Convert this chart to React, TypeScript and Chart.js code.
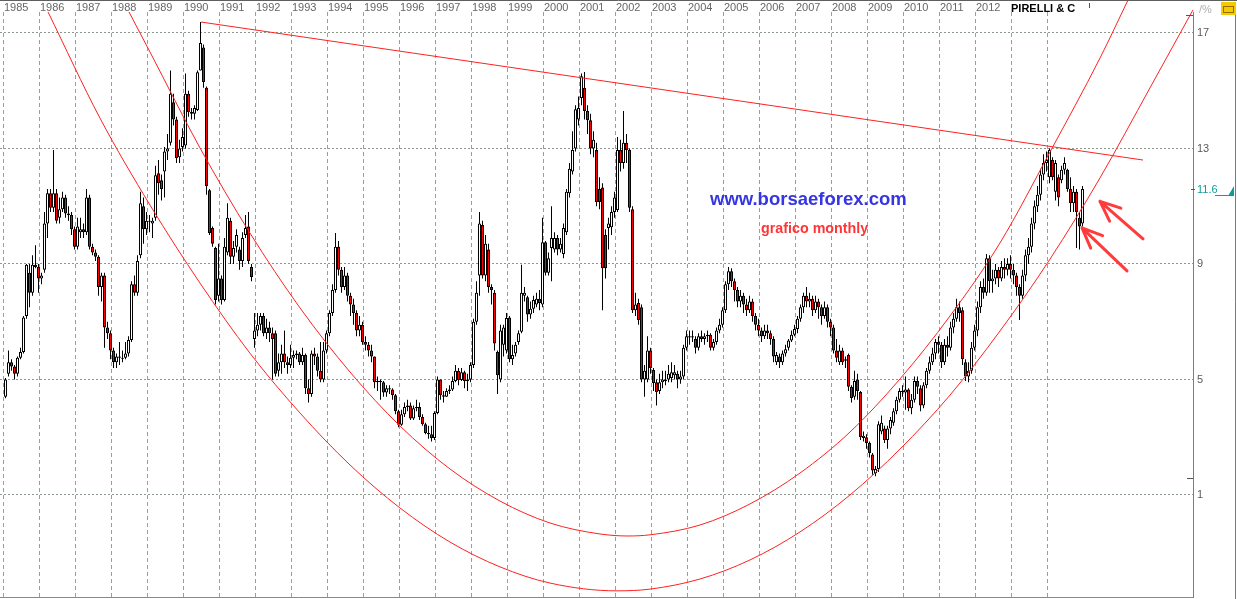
import React, { useEffect, useRef } from 'react';
import { Chart, registerables } from 'chart.js';

Chart.register(...registerables);

// ---------- axes ----------
const xTickYears = [1985, 1986, 1987, 1988, 1989, 1990, 1991, 1992, 1993, 1994, 1995, 1996, 1997, 1998, 1999, 2000, 2001, 2002, 2003, 2004, 2005, 2006, 2007, 2008, 2009, 2010, 2011, 2012, 2013, 2014];
const xTickLabels = ['1985', '1986', '1987', '1988', '1989', '1990', '1991', '1992', '1993', '1994', '1995', '1996', '1997', '1998', '1999', '2000', '2001', '2002', '2003', '2004', '2005', '2006', '2007', '2008', '2009', '2010', '2011', '2012', '', ''];
const yTickValues = [1, 5, 9, 13, 17];
const xMin = 1984.8889;
const xMax = 2018.0278;
const yMin = -2.533;
const yMax = 17.727;
const firstYear = 1985; // first monthly bar = Jan 1985

// ---------- monthly OHLC (one row per year, Jan..Dec) ----------
const opens = [
  4.4, 5.2, 5.6, 5.45, 5.2, 5.75, 5.95, 7.2, 8.7, 8.0, 8.97, 8.9,
  8.5, 8.8, 10.4, 11.45, 10.95, 11.45, 10.6, 10.9, 11.3, 10.75, 10.7, 10.2,
  9.6, 10.1, 10.2, 10.1, 11.3, 9.6, 9.4, 9.25, 8.2, 8.6, 6.8, 6.6,
  6.0, 5.6, 5.8, 5.75, 5.75, 5.9, 6.37, 8.3, 8.0, 9.3, 11.0, 10.2,
  10.5, 10.4, 10.6, 12.14, 11.9, 12.2, 12.9, 13.2, 14.6, 14.0, 12.7, 13.05,
  13.1, 14.9, 14.26, 14.2, 14.33, 15.7, 16.5, 15.1, 11.55, 10.25, 9.55, 7.9,
  8.5, 7.75, 9.4, 10.5, 9.25, 9.6, 9.5, 9.1, 10.0, 10.3, 8.9, 6.4,
  6.7, 6.9, 7.2, 6.6, 6.8, 6.6, 6.6, 5.3, 5.6, 5.9, 5.6, 5.5,
  5.75, 5.85, 5.9, 5.6, 5.85, 4.7, 4.5, 5.9, 5.8, 5.3, 5.0, 6.0,
  6.6, 7.3, 8.1, 9.6, 8.8, 8.2, 8.6, 7.9, 7.6, 7.3, 6.7, 6.9,
  6.3, 6.2, 6.0, 5.8, 4.9, 4.95, 4.9, 4.55, 4.7, 4.65, 4.45, 3.9,
  3.43, 3.8, 4.05, 4.1, 3.65, 4.0, 4.05, 3.7, 3.45, 3.15, 3.1, 2.97,
  3.84, 5.0, 4.45, 4.4, 4.6, 4.65, 4.95, 5.3, 4.98, 5.25, 4.95, 5.0,
  5.5, 7.0, 8.6, 10.35, 8.6, 9.5, 8.2, 8.0, 5.95, 5.0, 6.2, 6.0,
  7.15, 5.7, 5.9, 6.3, 6.65, 7.9, 7.85, 7.25, 7.45, 7.6, 7.8, 7.6,
  9.75, 8.7, 9.55, 9.5, 9.9, 9.5, 9.35, 10.1, 11.45, 12.2, 13.0, 14.0,
  14.75, 15.1, 14.3, 13.98, 13.0, 12.95, 11.6, 11.65, 10.0, 10.25, 10.27, 10.8,
  10.87, 12.95, 12.5, 13.2, 12.95, 10.9, 7.4, 7.65, 7.5, 5.0, 5.0, 6.0,
  5.33, 4.9, 4.6, 4.9, 5.0, 5.0, 5.05, 5.15, 5.2, 5.0, 5.1, 6.1,
  6.45, 6.5, 6.4, 6.1, 6.5, 6.4, 6.5, 6.55, 6.1, 6.3, 6.7, 6.9,
  7.4, 8.3, 8.75, 8.4, 8.1, 7.7, 7.9, 7.6, 7.4, 7.7, 7.2, 6.9,
  6.7, 6.5, 6.7, 6.6, 6.4, 5.6, 5.8, 5.6, 5.9, 6.1, 6.35, 6.55,
  6.75, 7.1, 7.5, 7.9, 7.7, 7.8, 7.4, 7.7, 7.5, 7.2, 7.5, 7.0,
  6.8, 6.0, 5.6, 6.0, 5.7, 5.85, 4.75, 4.4, 5.0, 4.57, 2.97, 3.0,
  2.8, 2.4, 1.75, 1.9, 3.2, 3.3, 2.9, 3.3, 3.5, 3.9, 4.3, 4.6,
  4.55, 4.65, 4.0, 4.3, 4.95, 4.7, 4.1, 4.8, 5.3, 5.6, 5.9, 6.3,
  6.2, 5.6, 6.2, 6.1, 6.8, 7.1, 7.5, 7.4, 5.6, 5.1, 5.3, 6.1,
  6.7, 7.5, 8.2, 8.0, 9.2, 8.4, 8.5, 8.8, 8.5, 8.9, 8.8, 9.0,
  8.8, 8.6, 8.2, 7.9, 8.6, 9.3, 9.6, 10.4, 11.0, 11.4, 12.1, 12.5,
  12.0, 12.6, 11.5, 12.0, 11.9, 12.26, 12.26, 11.6, 11.1, 11.5, 10.6, 10.4,
];
const highs = [
  5.05, 6.0, 5.7, 5.5, 5.8, 6.1, 7.2, 9.0, 9.0, 9.3, 9.65, 9.0,
  8.7, 10.8, 11.6, 11.6, 12.95, 11.6, 11.3, 11.5, 11.4, 11.0, 10.8, 10.3,
  10.6, 10.6, 10.4, 11.6, 11.4, 9.7, 9.5, 9.3, 8.7, 8.7, 7.0, 6.7,
  6.1, 5.9, 6.3, 6.0, 6.3, 6.5, 8.4, 8.6, 9.3, 11.5, 11.3, 10.8,
  10.7, 10.6, 12.4, 12.6, 12.1, 13.05, 13.5, 15.7, 14.9, 14.1, 13.3, 13.7,
  15.6, 15.0, 14.4, 14.5, 15.7, 17.38, 16.6, 15.15, 11.6, 10.3, 9.6, 9.7,
  8.6, 9.9, 11.1, 10.6, 9.8, 10.2, 9.6, 10.1, 10.7, 10.8, 9.0, 7.3,
  7.3, 7.3, 7.3, 7.1, 7.0, 6.8, 6.7, 5.9, 6.2, 6.7, 5.8, 6.2,
  6.0, 6.0, 5.95, 6.1, 5.9, 5.0, 6.0, 6.1, 5.9, 6.3, 6.3, 6.7,
  7.4, 8.3, 10.07, 9.8, 8.9, 8.9, 8.7, 8.0, 7.8, 7.4, 7.2, 7.0,
  6.5, 6.3, 6.2, 5.8, 5.1, 5.0, 4.95, 4.8, 4.8, 4.7, 4.5, 3.95,
  3.95, 4.2, 4.3, 4.2, 4.1, 4.3, 4.2, 3.8, 3.5, 3.4, 3.4, 3.9,
  5.1, 5.0, 4.6, 4.7, 4.8, 5.1, 5.5, 5.4, 5.4, 5.3, 5.2, 5.6,
  7.1, 8.4, 10.8, 10.5, 10.0, 9.7, 8.3, 8.1, 6.0, 6.9, 6.9, 7.3,
  7.2, 6.2, 6.3, 6.7, 8.97, 8.2, 7.9, 7.7, 7.9, 8.0, 8.1, 10.6,
  9.8, 9.4, 11.0, 10.1, 10.0, 9.9, 10.4, 11.6, 12.5, 13.6, 14.5, 14.8,
  15.6, 15.65, 14.5, 14.2, 13.6, 13.2, 12.0, 11.8, 10.2, 10.6, 11.0, 11.5,
  13.4, 13.3, 14.3, 13.5, 13.0, 11.0, 8.0, 7.8, 7.6, 5.5, 6.5, 6.1,
  5.4, 5.0, 5.2, 5.3, 5.3, 5.5, 5.6, 5.5, 5.3, 5.3, 6.2, 6.7,
  6.7, 6.7, 6.5, 6.6, 6.7, 6.6, 6.7, 6.6, 6.4, 6.8, 7.1, 7.5,
  8.4, 8.9, 8.85, 8.5, 8.2, 8.1, 8.0, 7.8, 7.9, 7.8, 7.3, 7.1,
  6.8, 6.9, 6.9, 6.7, 6.5, 5.95, 5.9, 6.0, 6.2, 6.4, 6.7, 6.9,
  7.2, 7.6, 8.0, 8.2, 8.0, 7.9, 7.9, 7.8, 7.6, 7.7, 7.6, 7.1,
  6.9, 6.4, 6.2, 6.1, 5.8, 5.9, 4.8, 5.3, 5.2, 4.6, 3.2, 3.1,
  2.85, 2.45, 2.0, 3.55, 3.75, 3.4, 3.4, 3.7, 4.0, 4.4, 4.7, 4.8,
  5.1, 4.7, 4.5, 5.1, 5.1, 4.8, 4.9, 5.4, 5.8, 6.1, 6.4, 6.5,
  6.3, 6.4, 6.5, 7.0, 7.3, 7.8, 7.7, 7.5, 5.7, 5.6, 6.3, 6.9,
  7.7, 8.4, 8.5, 9.35, 9.3, 8.8, 9.0, 8.9, 9.1, 9.2, 9.2, 9.3,
  9.0, 8.7, 8.3, 8.8, 9.5, 9.9, 10.6, 11.2, 11.7, 12.3, 12.8, 12.9,
  13.0, 12.7, 12.6, 12.1, 12.4, 12.7, 12.3, 12.0, 11.7, 11.6, 10.8, 11.7,
];
const lows = [
  4.35, 5.1, 5.3, 5.0, 5.1, 5.7, 5.9, 7.1, 7.5, 7.9, 8.85, 8.0,
  8.3, 8.7, 9.9, 10.8, 10.8, 10.4, 10.4, 10.8, 10.6, 10.5, 10.0, 9.5,
  9.5, 9.9, 9.9, 10.0, 9.5, 9.3, 9.1, 7.9, 7.7, 6.1, 6.4, 5.7,
  5.4, 5.4, 5.5, 5.6, 5.7, 5.8, 6.3, 7.9, 7.9, 9.2, 9.7, 10.0,
  10.1, 9.9, 10.5, 11.4, 11.2, 11.3, 12.6, 13.1, 13.8, 12.5, 12.5, 12.9,
  13.0, 14.1, 14.0, 14.0, 14.3, 15.7, 15.1, 11.4, 10.0, 9.6, 7.6, 7.7,
  7.6, 7.7, 9.3, 9.0, 9.0, 9.4, 8.8, 8.9, 9.9, 9.0, 8.4, 6.1,
  6.5, 6.7, 6.5, 6.4, 6.3, 5.0, 5.1, 5.1, 5.2, 5.4, 5.2, 5.4,
  5.4, 5.7, 5.5, 5.5, 4.5, 4.2, 4.4, 5.5, 5.1, 4.9, 4.9, 5.9,
  6.5, 7.2, 8.0, 8.6, 8.0, 8.1, 7.7, 7.2, 6.9, 6.5, 6.5, 6.2,
  6.0, 5.8, 5.6, 4.7, 4.6, 4.3, 4.4, 4.4, 4.5, 4.3, 3.8, 3.35,
  3.4, 3.7, 3.9, 3.6, 3.6, 3.9, 3.6, 3.4, 3.1, 2.95, 2.85, 2.9,
  3.8, 4.3, 4.2, 4.4, 4.5, 4.6, 4.9, 4.8, 4.95, 4.7, 4.6, 4.9,
  5.4, 6.9, 7.9, 8.5, 8.4, 8.0, 7.6, 6.0, 4.5, 4.9, 5.8, 5.9,
  5.6, 5.5, 5.8, 6.2, 6.6, 7.7, 7.0, 7.1, 7.3, 7.5, 7.4, 7.5,
  8.6, 8.6, 8.4, 9.4, 9.3, 9.4, 9.2, 10.0, 11.3, 12.1, 12.9, 13.8,
  14.5, 14.0, 13.5, 12.8, 12.7, 11.0, 10.9, 7.4, 8.5, 9.5, 10.0, 10.6,
  10.8, 12.2, 12.3, 12.5, 10.8, 7.3, 7.2, 6.9, 4.9, 4.4, 4.9, 5.2,
  4.6, 4.1, 4.5, 4.7, 4.8, 4.9, 4.9, 5.0, 4.7, 4.85, 5.0, 6.0,
  6.2, 6.3, 5.9, 6.0, 6.3, 6.2, 6.3, 6.0, 6.0, 6.2, 6.6, 6.8,
  7.3, 8.1, 8.2, 7.7, 7.5, 7.5, 7.3, 7.2, 7.3, 7.0, 6.7, 6.5,
  6.3, 6.4, 6.4, 6.2, 5.6, 5.5, 5.4, 5.5, 5.8, 6.0, 6.3, 6.5,
  6.6, 7.0, 7.3, 7.5, 7.5, 7.2, 7.3, 7.1, 6.9, 7.1, 6.8, 6.5,
  5.9, 5.6, 5.5, 5.5, 5.4, 4.6, 4.2, 4.3, 4.3, 2.9, 2.85, 2.6,
  2.3, 1.7, 1.65, 1.8, 3.1, 2.8, 2.6, 3.1, 3.4, 3.8, 4.2, 4.4,
  3.95, 3.9, 3.8, 4.2, 4.5, 3.9, 4.0, 4.7, 5.2, 5.5, 5.7, 5.9,
  5.4, 5.5, 5.8, 6.0, 6.6, 7.0, 7.0, 5.5, 4.95, 4.9, 5.2, 6.0,
  6.5, 7.3, 7.8, 7.9, 8.0, 8.0, 8.3, 8.2, 8.4, 8.5, 8.6, 8.5,
  8.3, 7.9, 7.06, 7.8, 8.4, 9.0, 9.4, 10.2, 10.8, 11.2, 11.9, 12.2,
  11.8, 11.9, 11.2, 11.0, 11.8, 12.1, 11.5, 10.8, 10.8, 9.55, 9.5, 10.3,
];
const closes = [
  5.0, 5.6, 5.45, 5.2, 5.75, 5.95, 7.15, 8.97, 8.0, 8.97, 8.9, 8.5,
  8.6, 10.4, 11.45, 10.95, 11.45, 10.5, 10.9, 11.3, 10.75, 10.7, 10.2, 9.6,
  10.3, 10.2, 10.1, 11.3, 9.6, 9.4, 9.25, 8.2, 8.6, 6.8, 6.6, 6.0,
  5.6, 5.8, 5.75, 5.75, 5.9, 6.37, 8.3, 8.0, 9.1, 11.1, 10.2, 10.5,
  10.5, 10.5, 12.07, 11.8, 11.6, 12.9, 13.0, 14.9, 14.0, 12.67, 13.0, 13.4,
  14.9, 14.26, 14.2, 14.4, 15.64, 16.65, 15.3, 11.7, 10.07, 9.7, 7.75, 8.5,
  7.75, 9.6, 10.6, 9.25, 9.55, 10.0, 9.1, 9.9, 10.25, 9.1, 8.55, 6.7,
  6.9, 7.2, 6.6, 6.8, 6.6, 6.4, 5.2, 5.6, 5.9, 5.6, 5.5, 5.75,
  5.85, 5.9, 5.6, 5.85, 4.7, 4.5, 5.9, 5.8, 5.3, 5.0, 6.0, 6.6,
  7.3, 8.1, 9.6, 8.8, 8.2, 8.6, 7.9, 7.6, 7.3, 6.7, 6.9, 6.3,
  6.2, 6.0, 5.8, 4.9, 4.95, 4.9, 4.55, 4.7, 4.65, 4.45, 3.9, 3.43,
  3.8, 4.05, 4.1, 3.65, 4.0, 4.05, 3.7, 3.45, 3.15, 3.1, 2.97, 3.84,
  5.0, 4.45, 4.4, 4.6, 4.65, 4.95, 5.3, 4.98, 5.25, 4.95, 5.0, 5.5,
  7.0, 8.0, 10.4, 8.6, 9.7, 8.2, 8.1, 6.25, 5.15, 6.7, 6.8, 7.13,
  5.7, 5.85, 6.2, 6.6, 8.0, 8.0, 7.25, 7.45, 7.75, 7.8, 7.65, 9.75,
  8.7, 9.2, 9.9, 9.9, 9.5, 9.7, 10.25, 11.5, 12.3, 12.95, 14.36, 14.4,
  15.5, 14.3, 13.98, 13.0, 13.3, 11.15, 11.15, 8.85, 8.85, 10.4, 10.8, 11.3,
  12.95, 12.5, 13.2, 12.95, 10.95, 7.4, 7.6, 7.06, 5.0, 5.3, 6.0, 5.4,
  4.88, 4.57, 4.9, 5.0, 4.95, 5.2, 5.25, 5.25, 5.0, 5.1, 6.1, 6.5,
  6.5, 6.45, 6.1, 6.5, 6.4, 6.5, 6.55, 6.1, 6.3, 6.7, 6.9, 7.4,
  8.3, 8.75, 8.4, 8.1, 7.7, 7.9, 7.6, 7.4, 7.7, 7.2, 6.9, 6.7,
  6.5, 6.7, 6.6, 6.4, 5.8, 5.85, 5.6, 5.9, 6.05, 6.35, 6.55, 6.75,
  7.1, 7.5, 7.9, 7.7, 7.8, 7.4, 7.7, 7.5, 7.2, 7.5, 7.0, 6.8,
  6.0, 5.75, 6.0, 5.6, 5.65, 4.75, 4.36, 4.95, 4.6, 3.0, 3.05, 2.8,
  2.45, 1.85, 1.9, 3.45, 3.5, 2.9, 3.3, 3.6, 3.9, 4.3, 4.6, 4.6,
  4.65, 4.0, 4.3, 4.95, 4.75, 4.1, 4.8, 5.3, 5.6, 5.9, 6.3, 6.2,
  5.6, 6.2, 6.1, 6.8, 7.1, 7.5, 7.3, 5.7, 5.1, 5.3, 6.1, 6.7,
  7.5, 8.2, 8.0, 9.2, 8.4, 8.5, 8.8, 8.5, 8.9, 8.8, 9.0, 8.8,
  8.6, 8.2, 7.9, 8.6, 9.3, 9.6, 10.4, 11.0, 11.4, 12.1, 12.5, 12.6,
  12.95, 12.0, 12.5, 11.3, 12.26, 12.5, 11.6, 11.1, 11.5, 10.8, 10.3, 11.6,
];

// ---------- hand-drawn study lines (in year / price units) ----------
const resistanceX = [1990.472, 2016.639];
const resistanceY = [17.38, 12.6];
const innerArcX = [1988.472, 1989.056, 1990.444, 1991.833, 1993.222, 1994.611, 1996.0, 1997.389, 1998.778, 2000.167, 2001.556, 2002.333, 2002.944, 2004.333, 2005.722, 2007.111, 2008.5, 2009.889, 2011.278, 2012.667, 2014.056, 2015.444, 2016.222];
const innerArcY = [17.73, 16.34, 13.02, 10.07, 7.48, 5.26, 3.39, 1.9, 0.79, 0.03, -0.35, -0.42, -0.38, -0.04, 0.69, 1.76, 3.18, 5.02, 7.2, 9.73, 12.88, 16.13, 18.14];
const outerArcX = [1986.222, 1987.667, 1989.056, 1990.444, 1991.833, 1993.222, 1994.611, 1996.0, 1997.389, 1998.778, 2000.167, 2002.028, 2002.944, 2004.333, 2005.722, 2007.111, 2008.5, 2009.889, 2011.278, 2012.667, 2014.056, 2015.444, 2016.833, 2018.028];
const outerArcY = [17.73, 14.05, 11.04, 8.34, 5.91, 3.84, 2.04, 0.55, -0.63, -1.49, -2.05, -2.32, -2.26, -1.91, -1.25, -0.28, 1.0, 2.59, 4.46, 6.68, 9.17, 11.98, 15.1, 17.8];

// arrows: tip and tail in year / price units
const arrowTipX = [2015.444, 2014.944];
const arrowTipY = [11.17, 10.25];
const arrowTailX = [2016.639, 2016.194];
const arrowTailY = [9.87, 8.76];

const lastPrice = 11.6;
const chartTitle = 'PIRELLI & C';
const siteText = 'www.borsaeforex.com';
const siteAt = { x: 2004.611, y: 11.04 };
const subText = 'grafico monthly';
const subAt = { x: 2006.028, y: 10.07 };

const FONT = '"Liberation Sans", Arial, Helvetica, sans-serif';

const candleX = (m: number) => firstYear + (m + 0.5) / 12;

const overlayPlugin = {
  id: 'overlay',
  afterDraw(chart: any) {
    const { ctx, chartArea } = chart;
    const xs = chart.scales.x;
    const ys = chart.scales.y;
    const W = chart.width;
    const H = chart.height;
    ctx.save();

    // frame lines
    ctx.lineWidth = 1;
    ctx.strokeStyle = '#5f5f5f';
    ctx.beginPath();
    ctx.moveTo(0, 0.5);
    ctx.lineTo(W, 0.5);
    ctx.stroke();
    ctx.strokeStyle = '#8a8a8a';
    ctx.beginPath();
    ctx.moveTo(0, chartArea.bottom + 0.5);
    ctx.lineTo(chartArea.right, chartArea.bottom + 0.5);
    ctx.stroke();
    ctx.strokeStyle = '#7a7a7a';
    ctx.beginPath();
    ctx.moveTo(W - 1.5, 4);
    ctx.lineTo(W - 1.5, H);
    ctx.stroke();

    // small axis markers
    ctx.strokeStyle = '#555';
    ctx.beginPath();
    ctx.moveTo(chartArea.right - 7, 15.5);
    ctx.lineTo(chartArea.right, 15.5);
    ctx.moveTo(chartArea.right - 6, Math.round(ys.getPixelForValue(1.6)) + 0.5);
    ctx.lineTo(chartArea.right, Math.round(ys.getPixelForValue(1.6)) + 0.5);
    ctx.moveTo(1089.5, 3);
    ctx.lineTo(1089.5, 8);
    ctx.stroke();

    // title
    ctx.fillStyle = '#000';
    ctx.font = 'bold 11px ' + FONT;
    ctx.textAlign = 'left';
    ctx.textBaseline = 'alphabetic';
    ctx.fillText(chartTitle, xs.getPixelForValue(2013) - 1, 12);

    // top-right icons
    ctx.fillStyle = '#b0b0b0';
    ctx.font = '11px ' + FONT;
    ctx.fillText('/%', 1199, 13);
    ctx.fillStyle = '#f2cc00';
    ctx.fillRect(1221, 2, 15, 13);
    ctx.strokeStyle = '#9a6a00';
    ctx.strokeRect(1223.5, 6.5, 10, 6);

    // watermark texts
    ctx.fillStyle = '#3535e2';
    ctx.font = 'bold 18.5px ' + FONT;
    ctx.fillText(siteText, xs.getPixelForValue(siteAt.x), ys.getPixelForValue(siteAt.y));
    ctx.fillStyle = '#ff3535';
    ctx.font = 'bold 14.3px ' + FONT;
    ctx.fillText(subText, xs.getPixelForValue(subAt.x), ys.getPixelForValue(subAt.y));

    // arrows
    ctx.strokeStyle = '#ff3b3b';
    ctx.lineWidth = 3;
    ctx.lineCap = 'round';
    for (let i = 0; i < arrowTipX.length; i++) {
      const tx = xs.getPixelForValue(arrowTipX[i]);
      const ty = ys.getPixelForValue(arrowTipY[i]);
      const sx = xs.getPixelForValue(arrowTailX[i]);
      const sy = ys.getPixelForValue(arrowTailY[i]);
      const ang = Math.atan2(sy - ty, sx - tx);
      ctx.beginPath();
      ctx.moveTo(sx, sy);
      ctx.lineTo(tx, ty);
      for (const d of [-0.4, 0.4]) {
        ctx.moveTo(tx, ty);
        ctx.lineTo(tx + 22 * Math.cos(ang + d), ty + 22 * Math.sin(ang + d));
      }
      ctx.stroke();
    }

    // last price tag
    const py = Math.round(ys.getPixelForValue(lastPrice));
    ctx.lineWidth = 1;
    ctx.lineCap = 'butt';
    ctx.strokeStyle = '#555';
    ctx.beginPath();
    ctx.moveTo(chartArea.right - 2, py + 0.5);
    ctx.lineTo(chartArea.right + 2, py + 0.5);
    ctx.stroke();
    ctx.fillStyle = '#0f9a9e';
    ctx.font = '11px ' + FONT;
    ctx.textBaseline = 'middle';
    ctx.fillText(String(lastPrice), chartArea.right + 4, py + 1);
    ctx.strokeStyle = '#0f9a9e';
    ctx.beginPath();
    ctx.moveTo(chartArea.right + 22, py + 6.5);
    ctx.lineTo(chartArea.right + 41, py + 6.5);
    ctx.stroke();
    ctx.beginPath();
    ctx.moveTo(chartArea.right + 41, py - 3);
    ctx.lineTo(chartArea.right + 41, py + 7);
    ctx.lineTo(chartArea.right + 35, py + 7);
    ctx.closePath();
    ctx.fill();

    ctx.restore();
  },
};

export default function App() {
  const ref = useRef<HTMLCanvasElement>(null);

  useEffect(() => {
    document.body.style.margin = '0';
    const canvas = ref.current;
    if (!canvas) return;

    const wickData = closes.map((_, m) => ({ x: candleX(m), y: [lows[m], highs[m]] }));
    const bodyData = closes.map((c, m) => ({ x: candleX(m), y: [opens[m], c] }));
    const bodyColors = closes.map((c, m) => (c >= opens[m] ? '#ffffff' : '#ff0000'));

    const chart = new Chart(canvas, {
      type: 'bar',
      data: {
        datasets: [
          {
            type: 'line',
            data: resistanceX.map((x, i) => ({ x, y: resistanceY[i] })),
            borderColor: '#ff2020',
            borderWidth: 1,
            pointRadius: 0,
            order: 0,
            clip: false,
          } as any,
          {
            type: 'line',
            data: innerArcX.map((x, i) => ({ x, y: innerArcY[i] })),
            borderColor: '#ff2020',
            borderWidth: 1,
            pointRadius: 0,
            cubicInterpolationMode: 'monotone',
            order: 0,
            clip: false,
          } as any,
          {
            type: 'line',
            data: outerArcX.map((x, i) => ({ x, y: outerArcY[i] })),
            borderColor: '#ff2020',
            borderWidth: 1,
            pointRadius: 0,
            cubicInterpolationMode: 'monotone',
            order: 0,
            clip: false,
          } as any,
          {
            type: 'bar',
            data: bodyData,
            backgroundColor: bodyColors,
            borderColor: '#000000',
            borderWidth: 1,
            borderSkipped: false,
            barThickness: 3,
            minBarLength: 1,
            grouped: false,
            inflateAmount: 0,
            order: 1,
          } as any,
          {
            type: 'bar',
            data: wickData,
            backgroundColor: '#000000',
            borderWidth: 0,
            barThickness: 1,
            grouped: false,
            inflateAmount: 0,
            order: 2,
          } as any,
        ],
      },
      options: {
        animation: false,
        responsive: false,
        devicePixelRatio: 1,
        events: [],
        layout: { padding: { left: 0, right: 0, top: 0, bottom: 2 } },
        plugins: { legend: { display: false }, tooltip: { enabled: false } },
        scales: {
          x: {
            type: 'linear',
            position: 'top',
            min: xMin,
            max: xMax,
            offset: false,
            afterBuildTicks: (s: any) => {
              s.ticks = xTickYears.map((v) => ({ value: v }));
            },
            afterFit: (s: any) => {
              s.height = 12;
              s.paddingLeft = 0;
              s.paddingRight = 0;
            },
            grid: { offset: false, color: '#9d9ba5', lineWidth: 1, drawTicks: false, tickLength: 0 },
            border: { display: false, dash: [4, 3] },
            ticks: {
              align: 'start',
              padding: -3,
              autoSkip: false,
              maxRotation: 0,
              minRotation: 0,
              color: '#666666',
              font: { family: FONT, size: 11 },
              callback: (_v: any, i: number) => xTickLabels[i] ?? '',
            },
          },
          y: {
            type: 'linear',
            position: 'right',
            min: yMin,
            max: yMax,
            afterBuildTicks: (s: any) => {
              s.ticks = yTickValues.map((v) => ({ value: v }));
            },
            afterFit: (s: any) => {
              s.width = 44;
              s.paddingTop = 0;
              s.paddingBottom = 0;
            },
            grid: { color: '#8e998e', lineWidth: 1, drawTicks: false, tickLength: 0 },
            border: { display: true, color: '#7d7d7d', width: 1, dash: [2, 2] },
            ticks: {
              padding: 4,
              color: '#5a5a5a',
              font: { family: FONT, size: 11 },
              callback: (v: any) => String(v),
            },
          },
        },
      } as any,
      plugins: [overlayPlugin],
    });

    return () => chart.destroy();
  }, []);

  return <canvas ref={ref} width={1237} height={599} style={{ display: 'block' }} />;
}
